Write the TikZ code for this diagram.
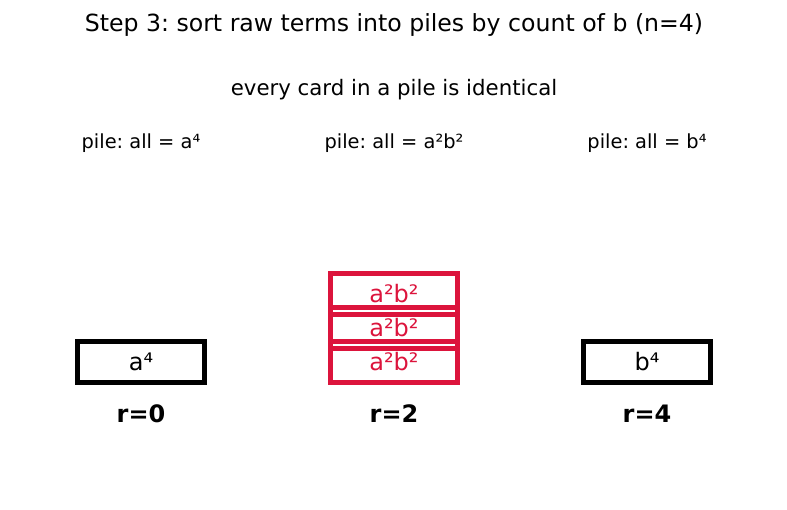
\documentclass[tikz,border=0pt]{standalone}
\usepackage{fontspec}
\setmainfont{DejaVu Sans}
\frenchspacing
\usetikzlibrary{calc,positioning}
\definecolor{plInk}{HTML}{000000}
\definecolor{plRed}{HTML}{DC143C}
\tikzset{
  pl title/.style={font=\fontsize{23.6}{27}\selectfont, text=plInk},
  pl note/.style={font=\fontsize{21.3}{25}\selectfont, text=plInk},
  pl head/.style={font=\fontsize{19.4}{23}\selectfont, text=plInk},
  pl card/.style={
    draw=plInk,
    line width=4.2pt,
    minimum width=127pt,
    minimum height=41pt,
    inner sep=0pt,
    font=\fontsize{24}{28}\selectfont,
    text=plInk
  },
  pl card same/.style={pl card, draw=plRed, text=plRed},
  pl rank/.style={font=\bfseries\fontsize{24}{28}\selectfont, text=plInk}
}

\begin{document}
\begin{tikzpicture}[x=1pt,y=-1pt]
  \useasboundingbox[fill=white] (0,0) rectangle (787,510);
  \coordinate (L) at (141,362);
  \coordinate (M) at (394,362);
  \coordinate (R) at (647,362);

  \node[pl title] (title) at (394,25) {Step 3: sort raw terms into piles by count of b (n=4)};
  \node[pl note] (note) at (394,90) {every card in a pile is identical};

  \node[pl head] (headL) at (141,143) {pile: all = a⁴};
  \node[pl head] (headM) at (394,143) {pile: all = a²b²};
  \node[pl head] (headR) at (647,143) {pile: all = b⁴};

  % one card per pile, the middle pile has three
  \node[pl card] (cardL) at (L) {a⁴};
  \node[pl card same] (cardM1) at (M) {a²b²};
  \node[pl card same] (cardM2) at ($(M)+(0,-34)$) {a²b²};
  \node[pl card same] (cardM3) at ($(M)+(0,-68)$) {a²b²};
  \node[pl card] (cardR) at (R) {b⁴};

  \node[pl rank] (rankL) at (141,414) {r=0};
  \node[pl rank] (rankM) at (394,414) {r=2};
  \node[pl rank] (rankR) at (647,414) {r=4};
\end{tikzpicture}
\end{document}
